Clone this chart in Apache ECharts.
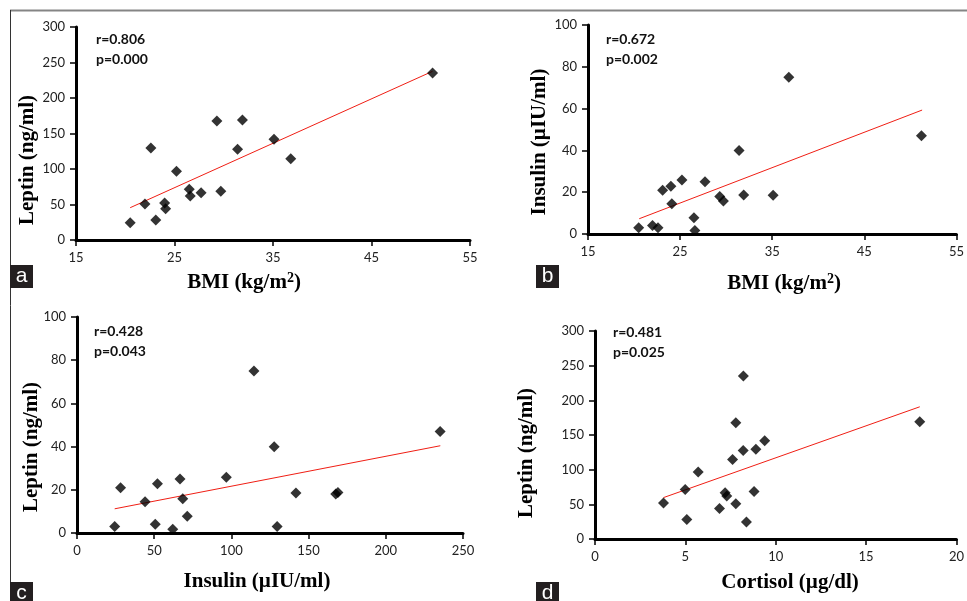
<!DOCTYPE html>
<html>
<head>
<meta charset="utf-8">
<script src="https://cdn.jsdelivr.net/npm/echarts@6/dist/echarts.min.js"></script>
<style>
  html, body { margin: 0; padding: 0; background: #fff; }
  #chart { width: 967px; height: 601px; }
</style>
</head>
<body>
<div id="chart"></div>
<script>
// 17 subjects, values
var bmi      = [20.5, 22.0, 22.6, 23.1, 24.0, 24.1, 25.2, 26.5, 26.6, 27.7, 29.3, 29.7, 31.4, 31.9, 35.1, 36.8, 51.2];
var leptin   = [24.4, 50.7, 129.6, 28.2, 52.1, 44.1, 96.7, 71.4, 62.0, 66.7, 167.6, 68.5, 127.7, 169.0, 141.8, 114.6, 235.2];
var insulin  = [3.0, 4.1, 3.0, 20.9, 22.8, 14.5, 25.8, 7.8, 1.7, 25.0, 18.0, 15.8, 39.9, 18.7, 18.5, 75.0, 47.0];
var cortisol = [8.38, 7.79, 8.9, 5.08, 3.79, 6.89, 5.71, 4.99, 7.29, 7.2, 7.79, 8.8, 8.2, 17.97, 9.39, 7.61, 8.21];

// fitted lines (end points)
var trendA = [[20.5, 45.5], [51.2, 237.6]];
var trendB = [[20.56, 7.3], [51.27, 59.3]];
var trendC = [[24.4, 11.2], [235.3, 40.4]];
var trendD = [[3.79, 59.7], [17.97, 190.7]];

var stats = [['r=0.806', 'p=0.000'], ['r=0.672', 'p=0.002'], ['r=0.428', 'p=0.043'], ['r=0.481', 'p=0.025']];
var panelLetters = ['a', 'b', 'c', 'd'];

function pairs(xs, ys) {
    return xs.map(function (x, i) { return [x, ys[i]]; });
}

var grids = [
    { left: 76, top: 27, width: 394, height: 213 },
    { left: 588, top: 25, width: 372, height: 209 },
    { left: 77, top: 317, width: 386, height: 216 },
    { left: 595, top: 331, width: 362, height: 208 }
];

function axis(gi, min, max, interval) {
    return {
        type: 'value', gridIndex: gi, min: min, max: max, interval: interval,
        axisLine: { show: true, onZero: false, lineStyle: { color: '#000', width: 3 } },
        axisTick: { show: true, length: 6, lineStyle: { color: '#000', width: 1.5 } },
        splitLine: { show: false },
        axisLabel: { color: '#222', fontSize: 13, fontFamily: 'Lato', margin: 11 }
    };
}

var titleFont = 'bold 21px "Liberation Serif"';
var statFont = 'bold 14px Lato';
var titleRich = { s: { font: 'bold 14px "Liberation Serif"', fill: '#000', padding: [0, 0, 9, 0] } };

// label positions
var xNames = [
    ['BMI (kg/m{s|2})', 244, 283],
    ['BMI (kg/m{s|2})', 784, 284],
    ['Insulin (µIU/ml)', 257, 582],
    ['Cortisol (µg/dl)', 790, 583]
];
var yNames = [
    ['Leptin (ng/ml)', 28, 160],
    ['Insulin (µIU/ml)', 540, 142],
    ['Leptin (ng/ml)', 32, 447],
    ['Leptin (ng/ml)', 527, 453]
];
var statPos = [[96, 39], [606, 39], [94, 331], [613, 332]];
var letterPos = [[10, 265], [536, 265], [10, 582], [536, 582]];

var graphic = [
    { type: 'line', shape: { x1: 10, y1: 10.5, x2: 967, y2: 10.5 }, style: { stroke: '#858585', lineWidth: 2 } },
    { type: 'line', shape: { x1: 10.5, y1: 10, x2: 10.5, y2: 601 }, style: { stroke: '#333', lineWidth: 1 } }
];
xNames.forEach(function (n) {
    graphic.push({ type: 'text', x: n[1], y: n[2],
        style: { text: n[0], font: titleFont, fill: '#000', rich: titleRich, textAlign: 'center', textVerticalAlign: 'middle' } });
});
yNames.forEach(function (n) {
    graphic.push({ type: 'text', x: n[1], y: n[2], rotation: Math.PI / 2,
        style: { text: n[0], font: titleFont, fill: '#000', textAlign: 'center', textVerticalAlign: 'middle' } });
});
statPos.forEach(function (p, i) {
    graphic.push({ type: 'text', x: p[0], y: p[1],
        style: { text: stats[i][0], font: statFont, fill: '#111', textVerticalAlign: 'middle' } });
    graphic.push({ type: 'text', x: p[0], y: p[1] + 20,
        style: { text: stats[i][1], font: statFont, fill: '#111', textVerticalAlign: 'middle' } });
});
letterPos.forEach(function (p, i) {
    graphic.push({ type: 'rect', shape: { x: p[0], y: p[1], width: 23, height: 23 }, style: { fill: '#231f20' } });
    graphic.push({ type: 'text', x: p[0] + 11.5, y: p[1] + 11, z: 10,
        style: { text: panelLetters[i], font: '21px "Liberation Sans"', fill: '#fff', textAlign: 'center', textVerticalAlign: 'middle' } });
});

var scatterData = [pairs(bmi, leptin), pairs(bmi, insulin), pairs(leptin, insulin), pairs(cortisol, leptin)];
var trends = [trendA, trendB, trendC, trendD];

var series = [];
for (var i = 0; i < 4; i++) {
    series.push({
        type: 'line', xAxisIndex: i, yAxisIndex: i, data: trends[i], symbol: 'none',
        lineStyle: { color: '#f01e14', width: 1 }, z: 2, silent: true
    });
    series.push({
        type: 'scatter', xAxisIndex: i, yAxisIndex: i, data: scatterData[i],
        symbol: 'diamond', symbolSize: 11, itemStyle: { color: '#000' }, z: 3
    });
}

var myChart = echarts.init(document.getElementById('chart'));
myChart.setOption({
    animation: false,
    backgroundColor: '#fff',
    grid: grids,
    xAxis: [
        axis(0, 15, 55, 10),
        axis(1, 15, 55, 10),
        axis(2, 0, 250, 50),
        axis(3, 0, 20, 5)
    ],
    yAxis: [
        axis(0, 0, 300, 50),
        axis(1, 0, 100, 20),
        axis(2, 0, 100, 20),
        axis(3, 0, 300, 50)
    ],
    graphic: graphic,
    series: series
});
</script>
</body>
</html>
